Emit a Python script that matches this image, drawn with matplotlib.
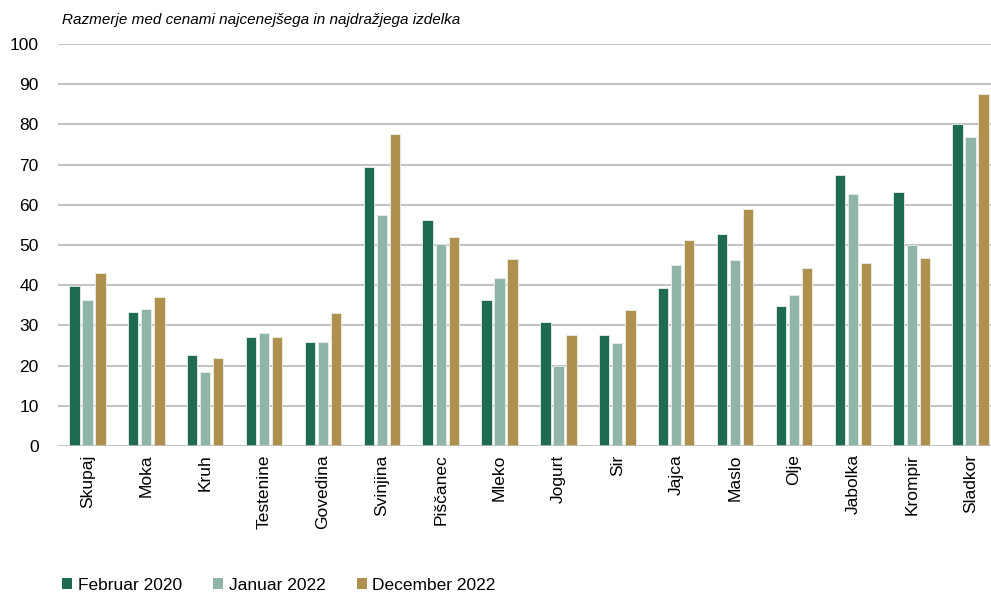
import numpy as np
import matplotlib.pyplot as plt
from matplotlib.patches import Patch

plt.rcParams['font.family'] = ['Liberation Sans', 'DejaVu Sans']

kategorije = ['Skupaj', 'Moka', 'Kruh', 'Testenine', 'Govedina', 'Svinjina', 'Piščanec',
              'Mleko', 'Jogurt', 'Sir', 'Jajca', 'Maslo', 'Olje', 'Jabolka', 'Krompir', 'Sladkor']
feb_2020 = [39.8, 33.3, 22.7, 27.0, 25.9, 69.5, 56.3, 36.4, 30.9, 27.6, 39.2, 52.8, 34.9, 67.3, 63.1, 80.0]
jan_2022 = [36.3, 34.0, 18.3, 28.2, 25.8, 57.5, 50.2, 41.9, 19.9, 25.5, 45.1, 46.2, 37.5, 62.7, 50.1, 76.8]
dec_2022 = [43.0, 37.0, 21.9, 27.1, 33.0, 77.7, 52.0, 46.6, 27.5, 33.9, 51.2, 59.0, 44.4, 45.4, 46.8, 87.5]

serije = [('Februar 2020', feb_2020, '#1f6b51'),
          ('Januar 2022', jan_2022, '#8fb5a8'),
          ('December 2022', dec_2022, '#b0904e')]

fig = plt.figure(figsize=(9.91, 5.95), dpi=100)
ax = fig.add_axes([58 / 991, 1 - 446 / 595, (1000 - 58) / 991, (446 - 44) / 595])

x = np.arange(len(kategorije))
w = 0.175
for i, (ime, vals, col) in enumerate(serije):
    ax.bar(x + (i - 1) * 0.222, vals, w, color=col, edgecolor='#e8efe9', linewidth=0.6,
           label=ime, zorder=3)

ax.set_xlim(-0.5, len(kategorije) - 0.5)
ax.set_ylim(0, 100)
ax.set_yticks(range(0, 101, 10))
ax.grid(axis='y', color='#c3c3c3', linewidth=1.5, zorder=0)
ax.axhline(0, color='#c3c3c3', linewidth=1.8, zorder=4)
for s in ax.spines.values():
    s.set_visible(False)
ax.tick_params(axis='both', length=0, labelsize=12.5)
ax.tick_params(axis='y', pad=14)
ax.tick_params(axis='x', pad=6)
ax.set_xticks(x)
ax.set_xticklabels(kategorije, rotation=90, fontsize=12.5)

fig.text(62 / 991, 1 - 20 / 595, 'Razmerje med cenami najcenejšega in najdražjega izdelka',
         fontsize=11, style='italic', va='center', ha='left')

handles = [Patch(facecolor=c, edgecolor='none') for _, _, c in serije]
fig.legend(handles, [s[0] for s in serije], loc='center left',
           bbox_to_anchor=(62 / 991, 1 - 585 / 595), ncol=3, frameon=False,
           fontsize=12.5, handlelength=0.6, handleheight=0.6, handletextpad=0.3,
           columnspacing=1.8, borderpad=0, borderaxespad=0)

fig.savefig('out.png', dpi=100)
